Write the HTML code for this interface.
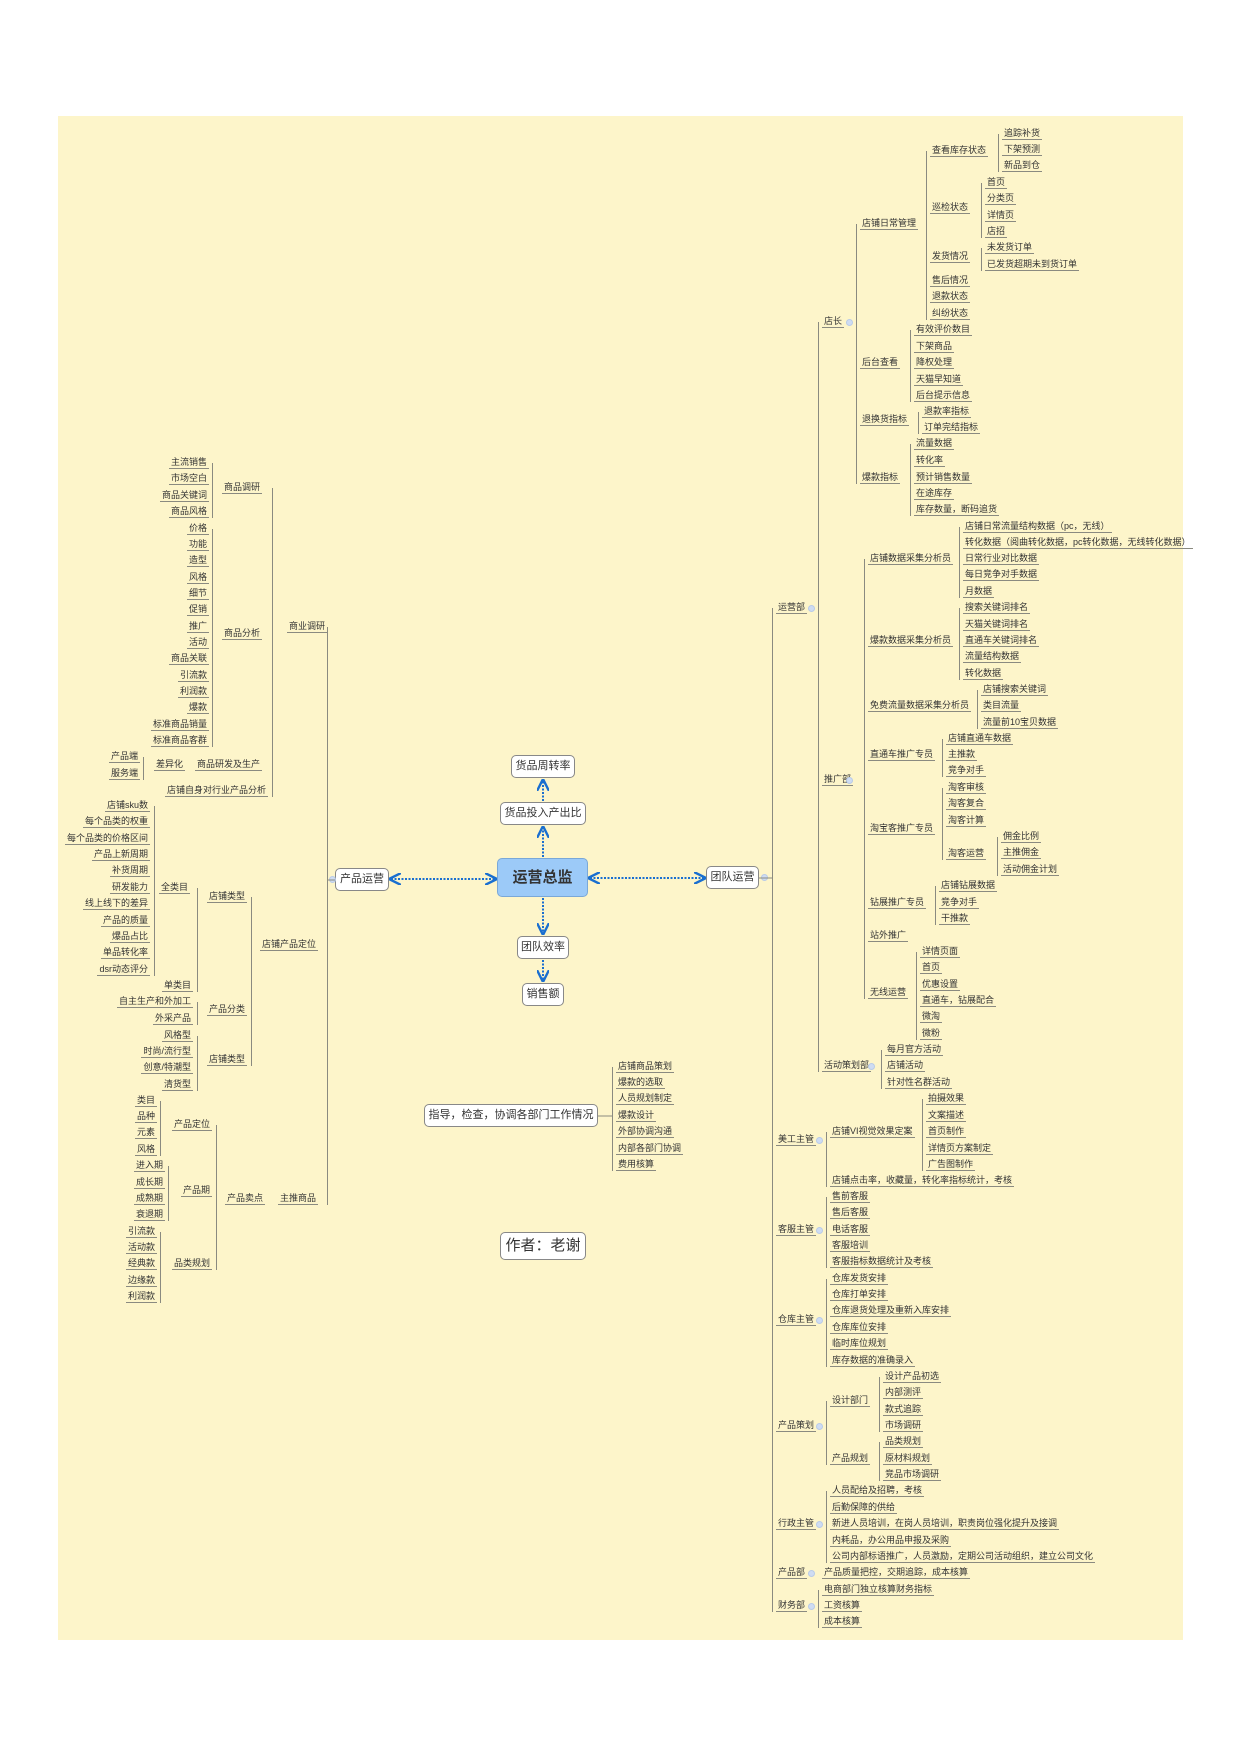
<!DOCTYPE html>
<html><head><meta charset="utf-8"><style>
*{margin:0;padding:0;box-sizing:border-box}
body{width:1240px;height:1754px;background:#fff;position:relative;font-family:"Liberation Sans","Noto Sans CJK SC",sans-serif;color:#333;overflow:hidden}
#bg{position:absolute;left:58px;top:116px;width:1125px;height:1524px;background:#fdf5ca}
.n{position:absolute;font-size:9px;line-height:12px;height:13px;border-bottom:1px solid #8a8a80;padding:0 2px;white-space:nowrap}
.l{text-align:right}
.v{position:absolute;width:0;border-left:1px solid #8a8a80}
.b{position:absolute;background:#fff;border:1px solid #888;border-radius:5px;font-size:11px;text-align:center;white-space:nowrap}
.c{position:absolute;width:7px;height:7px;border-radius:50%;background:#cfdcf2;border:1px solid #b9cbe8}
</style></head><body>
<div id="bg"></div>

<div class="b" style="left:511px;top:755px;width:64px;height:23px;line-height:21px">货品周转率</div>
<div class="b" style="left:500px;top:802px;width:86px;height:23px;line-height:21px">货品投入产出比</div>
<div class="b" style="left:497px;top:858px;width:91px;height:39px;line-height:37px;background:#9ccaf8;border-color:#7aa8d8;font-size:15px;font-weight:bold;color:#333">运营总监</div>
<div class="b" style="left:335px;top:868px;width:54px;height:23px;line-height:21px">产品运营</div>
<div class="b" style="left:706px;top:866px;width:53px;height:23px;line-height:21px">团队运营</div>
<div class="b" style="left:517px;top:936px;width:52px;height:23px;line-height:21px">团队效率</div>
<div class="b" style="left:522px;top:983px;width:42px;height:23px;line-height:21px">销售额</div>
<div class="b" style="left:424px;top:1104px;width:174px;height:23px;line-height:21px">指导，检查，协调各部门工作情况</div>
<div class="b" style="left:500px;top:1232px;width:86px;height:28px;line-height:26px;font-size:15px">作者：老谢</div>
<div class="c" style="left:329px;top:876px"></div>
<div class="c" style="left:761px;top:874px"></div>

<svg style="position:absolute;left:0;top:0" width="1240" height="1754">
<defs><marker id="a" markerWidth="6" markerHeight="6" refX="5" refY="3" orient="auto-start-reverse"><path d="M0,0 L6,3 L0,6" fill="none" stroke="#1a6fd0" stroke-width="1.2"/></marker></defs>
<g stroke="#1a6fd0" stroke-width="2" stroke-dasharray="2,1.5" fill="none">
<line x1="391" y1="879" x2="495" y2="879" marker-start="url(#a)" marker-end="url(#a)"/>
<line x1="590" y1="878" x2="704" y2="878" marker-start="url(#a)" marker-end="url(#a)"/>
<line x1="543" y1="857" x2="543" y2="828" marker-end="url(#a)"/>
<line x1="543" y1="801" x2="543" y2="781" marker-end="url(#a)"/>
<line x1="543" y1="898" x2="543" y2="933" marker-end="url(#a)"/>
<line x1="543" y1="960" x2="543" y2="980" marker-end="url(#a)"/>
</g>
<g stroke="#8a8a80" stroke-width="1">
<line x1="759" y1="878" x2="772" y2="878"/>
<line x1="327" y1="880" x2="335" y2="880"/>
<line x1="598" y1="1116" x2="612" y2="1116"/>
</g>
</svg>

<!-- ===== RIGHT TREE ===== -->
<div class="v" style="left:772px;top:608px;height:1004px"></div>
<div class="n" style="left:776px;top:601px">运营部</div>
<div class="v" style="left:818px;top:322px;height:750px"></div>
<div class="n" style="left:822px;top:315px">店长</div>
<div class="v" style="left:856px;top:224px;height:260px"></div>
<div class="n" style="left:860px;top:217px">店铺日常管理</div>
<div class="v" style="left:926px;top:151px;height:169px"></div>
<div class="n" style="left:930px;top:144px">查看库存状态</div>
<div class="v" style="left:998px;top:134px;height:38px"></div>
<div class="n" style="left:1002px;top:127px">追踪补货</div>
<div class="n" style="left:1002px;top:143px">下架预测</div>
<div class="n" style="left:1002px;top:159px">新品到仓</div>
<div class="n" style="left:930px;top:201px">巡检状态</div>
<div class="v" style="left:981px;top:183px;height:55px"></div>
<div class="n" style="left:985px;top:176px">首页</div>
<div class="n" style="left:985px;top:192px">分类页</div>
<div class="n" style="left:985px;top:209px">详情页</div>
<div class="n" style="left:985px;top:225px">店招</div>
<div class="n" style="left:930px;top:250px">发货情况</div>
<div class="v" style="left:981px;top:248px;height:23px"></div>
<div class="n" style="left:985px;top:241px">未发货订单</div>
<div class="n" style="left:985px;top:258px">已发货超期未到货订单</div>
<div class="n" style="left:930px;top:274px">售后情况</div>
<div class="n" style="left:930px;top:290px">退款状态</div>
<div class="n" style="left:930px;top:307px">纠纷状态</div>
<div class="n" style="left:860px;top:356px">后台查看</div>
<div class="v" style="left:910px;top:330px;height:72px"></div>
<div class="n" style="left:914px;top:323px">有效评价数目</div>
<div class="n" style="left:914px;top:340px">下架商品</div>
<div class="n" style="left:914px;top:356px">降权处理</div>
<div class="n" style="left:914px;top:373px">天猫早知道</div>
<div class="n" style="left:914px;top:389px">后台提示信息</div>
<div class="n" style="left:860px;top:413px">退换货指标</div>
<div class="v" style="left:918px;top:412px;height:22px"></div>
<div class="n" style="left:922px;top:405px">退款率指标</div>
<div class="n" style="left:922px;top:421px">订单完结指标</div>
<div class="n" style="left:860px;top:471px">爆款指标</div>
<div class="v" style="left:910px;top:444px;height:72px"></div>
<div class="n" style="left:914px;top:437px">流量数据</div>
<div class="n" style="left:914px;top:454px">转化率</div>
<div class="n" style="left:914px;top:471px">预计销售数量</div>
<div class="n" style="left:914px;top:487px">在途库存</div>
<div class="n" style="left:914px;top:503px">库存数量，断码追货</div>

<div class="n" style="left:822px;top:773px">推广部</div>
<div class="v" style="left:864px;top:559px;height:440px"></div>
<div class="n" style="left:868px;top:552px">店铺数据采集分析员</div>
<div class="v" style="left:959px;top:527px;height:71px"></div>
<div class="n" style="left:963px;top:520px">店铺日常流量结构数据（pc，无线）</div>
<div class="n" style="left:963px;top:536px">转化数据（阅曲转化数据，pc转化数据，无线转化数据）</div>
<div class="n" style="left:963px;top:552px">日常行业对比数据</div>
<div class="n" style="left:963px;top:568px">每日竞争对手数据</div>
<div class="n" style="left:963px;top:585px">月数据</div>
<div class="n" style="left:868px;top:634px">爆款数据采集分析员</div>
<div class="v" style="left:959px;top:608px;height:72px"></div>
<div class="n" style="left:963px;top:601px">搜索关键词排名</div>
<div class="n" style="left:963px;top:618px">天猫关键词排名</div>
<div class="n" style="left:963px;top:634px">直通车关键词排名</div>
<div class="n" style="left:963px;top:650px">流量结构数据</div>
<div class="n" style="left:963px;top:667px">转化数据</div>
<div class="n" style="left:868px;top:699px">免费流量数据采集分析员</div>
<div class="v" style="left:977px;top:690px;height:39px"></div>
<div class="n" style="left:981px;top:683px">店铺搜索关键词</div>
<div class="n" style="left:981px;top:699px">类目流量</div>
<div class="n" style="left:981px;top:716px">流量前10宝贝数据</div>
<div class="n" style="left:868px;top:748px">直通车推广专员</div>
<div class="v" style="left:942px;top:739px;height:38px"></div>
<div class="n" style="left:946px;top:732px">店铺直通车数据</div>
<div class="n" style="left:946px;top:748px">主推款</div>
<div class="n" style="left:946px;top:764px">竞争对手</div>
<div class="n" style="left:868px;top:822px">淘宝客推广专员</div>
<div class="v" style="left:942px;top:788px;height:72px"></div>
<div class="n" style="left:946px;top:781px">淘客审核</div>
<div class="n" style="left:946px;top:797px">淘客复合</div>
<div class="n" style="left:946px;top:814px">淘客计算</div>
<div class="n" style="left:946px;top:847px">淘客运营</div>
<div class="v" style="left:997px;top:837px;height:39px"></div>
<div class="n" style="left:1001px;top:830px">佣金比例</div>
<div class="n" style="left:1001px;top:846px">主推佣金</div>
<div class="n" style="left:1001px;top:863px">活动佣金计划</div>
<div class="n" style="left:868px;top:896px">钻展推广专员</div>
<div class="v" style="left:935px;top:886px;height:39px"></div>
<div class="n" style="left:939px;top:879px">店铺钻展数据</div>
<div class="n" style="left:939px;top:896px">竞争对手</div>
<div class="n" style="left:939px;top:912px">干推款</div>
<div class="n" style="left:868px;top:929px">站外推广</div>
<div class="n" style="left:868px;top:986px">无线运营</div>
<div class="v" style="left:916px;top:952px;height:88px"></div>
<div class="n" style="left:920px;top:945px">详情页面</div>
<div class="n" style="left:920px;top:961px">首页</div>
<div class="n" style="left:920px;top:978px">优惠设置</div>
<div class="n" style="left:920px;top:994px">直通车，钻展配合</div>
<div class="n" style="left:920px;top:1010px">微淘</div>
<div class="n" style="left:920px;top:1027px">微粉</div>
<div class="n" style="left:822px;top:1059px">活动策划部</div>
<div class="v" style="left:881px;top:1050px;height:39px"></div>
<div class="n" style="left:885px;top:1043px">每月官方活动</div>
<div class="n" style="left:885px;top:1059px">店铺活动</div>
<div class="n" style="left:885px;top:1076px">针对性名群活动</div>

<div class="n" style="left:776px;top:1133px">美工主管</div>
<div class="v" style="left:826px;top:1132px;height:55px"></div>
<div class="n" style="left:830px;top:1125px">店铺VI视觉效果定案</div>
<div class="v" style="left:922px;top:1099px;height:72px"></div>
<div class="n" style="left:926px;top:1092px">拍摄效果</div>
<div class="n" style="left:926px;top:1109px">文案描述</div>
<div class="n" style="left:926px;top:1125px">首页制作</div>
<div class="n" style="left:926px;top:1142px">详情页方案制定</div>
<div class="n" style="left:926px;top:1158px">广告图制作</div>
<div class="n" style="left:830px;top:1174px">店铺点击率，收藏量，转化率指标统计，考核</div>

<div class="n" style="left:776px;top:1223px">客服主管</div>
<div class="v" style="left:826px;top:1197px;height:71px"></div>
<div class="n" style="left:830px;top:1190px">售前客服</div>
<div class="n" style="left:830px;top:1206px">售后客服</div>
<div class="n" style="left:830px;top:1223px">电话客服</div>
<div class="n" style="left:830px;top:1239px">客服培训</div>
<div class="n" style="left:830px;top:1255px">客服指标数据统计及考核</div>

<div class="n" style="left:776px;top:1313px">仓库主管</div>
<div class="v" style="left:826px;top:1279px;height:88px"></div>
<div class="n" style="left:830px;top:1272px">仓库发货安排</div>
<div class="n" style="left:830px;top:1288px">仓库打单安排</div>
<div class="n" style="left:830px;top:1304px">仓库退货处理及重新入库安排</div>
<div class="n" style="left:830px;top:1321px">仓库库位安排</div>
<div class="n" style="left:830px;top:1337px">临时库位规划</div>
<div class="n" style="left:830px;top:1354px">库存数据的准确录入</div>

<div class="n" style="left:776px;top:1419px">产品策划</div>
<div class="v" style="left:826px;top:1401px;height:64px"></div>
<div class="n" style="left:830px;top:1394px">设计部门</div>
<div class="v" style="left:879px;top:1377px;height:55px"></div>
<div class="n" style="left:883px;top:1370px">设计产品初选</div>
<div class="n" style="left:883px;top:1386px">内部测评</div>
<div class="n" style="left:883px;top:1403px">款式追踪</div>
<div class="n" style="left:883px;top:1419px">市场调研</div>
<div class="n" style="left:830px;top:1452px">产品规划</div>
<div class="v" style="left:879px;top:1442px;height:39px"></div>
<div class="n" style="left:883px;top:1435px">品类规划</div>
<div class="n" style="left:883px;top:1452px">原材料规划</div>
<div class="n" style="left:883px;top:1468px">竞品市场调研</div>

<div class="n" style="left:776px;top:1517px">行政主管</div>
<div class="v" style="left:826px;top:1491px;height:72px"></div>
<div class="n" style="left:830px;top:1484px">人员配给及招聘，考核</div>
<div class="n" style="left:830px;top:1501px">后勤保障的供给</div>
<div class="n" style="left:830px;top:1517px">新进人员培训，在岗人员培训，职责岗位强化提升及接调</div>
<div class="n" style="left:830px;top:1534px">内耗品，办公用品申报及采购</div>
<div class="n" style="left:830px;top:1550px">公司内部标语推广，人员激励，定期公司活动组织，建立公司文化</div>
<div class="n" style="left:776px;top:1566px">产品部</div>
<div class="n" style="left:822px;top:1566px">产品质量把控，交期追踪，成本核算</div>
<div class="n" style="left:776px;top:1599px">财务部</div>
<div class="v" style="left:818px;top:1590px;height:38px"></div>
<div class="n" style="left:822px;top:1583px">电商部门独立核算财务指标</div>
<div class="n" style="left:822px;top:1599px">工资核算</div>
<div class="n" style="left:822px;top:1615px">成本核算</div>

<div class="c" style="left:808px;top:605px"></div>
<div class="c" style="left:846px;top:319px"></div>
<div class="c" style="left:846px;top:777px"></div>
<div class="c" style="left:868px;top:1063px"></div>
<div class="c" style="left:816px;top:1137px"></div>
<div class="c" style="left:816px;top:1227px"></div>
<div class="c" style="left:816px;top:1317px"></div>
<div class="c" style="left:816px;top:1423px"></div>
<div class="c" style="left:816px;top:1521px"></div>
<div class="c" style="left:808px;top:1570px"></div>
<div class="c" style="left:808px;top:1603px"></div>

<div class="v" style="left:612px;top:1067px;height:104px"></div>
<div class="n" style="left:616px;top:1060px">店铺商品策划</div>
<div class="n" style="left:616px;top:1076px">爆款的选取</div>
<div class="n" style="left:616px;top:1092px">人员规划制定</div>
<div class="n" style="left:616px;top:1109px">爆款设计</div>
<div class="n" style="left:616px;top:1125px">外部协调沟通</div>
<div class="n" style="left:616px;top:1142px">内部各部门协调</div>
<div class="n" style="left:616px;top:1158px">费用核算</div>

<!-- ===== LEFT TREE ===== -->
<div class="v" style="left:327px;top:627px;height:578px"></div>
<div class="n l" style="right:913px;top:620px">商业调研</div>
<div class="v" style="left:272px;top:488px;height:309px"></div>
<div class="n l" style="right:978px;top:481px">商品调研</div>
<div class="v" style="left:212px;top:463px;height:55px"></div>
<div class="n l" style="right:1031px;top:456px">主流销售</div>
<div class="n l" style="right:1031px;top:472px">市场空白</div>
<div class="n l" style="right:1031px;top:489px">商品关键词</div>
<div class="n l" style="right:1031px;top:505px">商品风格</div>
<div class="n l" style="right:978px;top:627px">商品分析</div>
<div class="v" style="left:212px;top:529px;height:218px"></div>
<div class="n l" style="right:1031px;top:522px">价格</div>
<div class="n l" style="right:1031px;top:538px">功能</div>
<div class="n l" style="right:1031px;top:554px">造型</div>
<div class="n l" style="right:1031px;top:571px">风格</div>
<div class="n l" style="right:1031px;top:587px">细节</div>
<div class="n l" style="right:1031px;top:603px">促销</div>
<div class="n l" style="right:1031px;top:620px">推广</div>
<div class="n l" style="right:1031px;top:636px">活动</div>
<div class="n l" style="right:1031px;top:652px">商品关联</div>
<div class="n l" style="right:1031px;top:669px">引流款</div>
<div class="n l" style="right:1031px;top:685px">利润款</div>
<div class="n l" style="right:1031px;top:701px">爆款</div>
<div class="n l" style="right:1031px;top:718px">标准商品销量</div>
<div class="n l" style="right:1031px;top:734px">标准商品客群</div>
<div class="n l" style="right:978px;top:758px">商品研发及生产</div>
<div class="n l" style="right:1055px;top:758px">差异化</div>
<div class="v" style="left:143px;top:757px;height:23px"></div>
<div class="n l" style="right:1100px;top:750px">产品端</div>
<div class="n l" style="right:1100px;top:767px">服务端</div>
<div class="n l" style="right:972px;top:784px">店铺自身对行业产品分析</div>

<div class="n l" style="right:922px;top:938px">店铺产品定位</div>
<div class="v" style="left:251px;top:897px;height:169px"></div>
<div class="n l" style="right:993px;top:890px">店铺类型</div>
<div class="v" style="left:197px;top:888px;height:104px"></div>
<div class="n l" style="right:1050px;top:881px">全类目</div>
<div class="v" style="left:154px;top:806px;height:170px"></div>
<div class="n l" style="right:1090px;top:799px">店铺sku数</div>
<div class="n l" style="right:1090px;top:815px">每个品类的权重</div>
<div class="n l" style="right:1090px;top:832px">每个品类的价格区间</div>
<div class="n l" style="right:1090px;top:848px">产品上新周期</div>
<div class="n l" style="right:1090px;top:864px">补货周期</div>
<div class="n l" style="right:1090px;top:881px">研发能力</div>
<div class="n l" style="right:1090px;top:897px">线上线下的差异</div>
<div class="n l" style="right:1090px;top:914px">产品的质量</div>
<div class="n l" style="right:1090px;top:930px">爆品占比</div>
<div class="n l" style="right:1090px;top:946px">单品转化率</div>
<div class="n l" style="right:1090px;top:963px">dsr动态评分</div>
<div class="n l" style="right:1047px;top:979px">单类目</div>
<div class="n l" style="right:993px;top:1003px">产品分类</div>
<div class="v" style="left:197px;top:1002px;height:23px"></div>
<div class="n l" style="right:1047px;top:995px">自主生产和外加工</div>
<div class="n l" style="right:1047px;top:1012px">外采产品</div>
<div class="n l" style="right:993px;top:1053px">店铺类型</div>
<div class="v" style="left:197px;top:1036px;height:55px"></div>
<div class="n l" style="right:1047px;top:1029px">风格型</div>
<div class="n l" style="right:1047px;top:1045px">时尚/流行型</div>
<div class="n l" style="right:1047px;top:1061px">创意/特潮型</div>
<div class="n l" style="right:1047px;top:1078px">清货型</div>

<div class="n l" style="right:922px;top:1192px">主推商品</div>
<div class="n l" style="right:975px;top:1192px">产品卖点</div>
<div class="v" style="left:216px;top:1125px;height:145px"></div>
<div class="n l" style="right:1028px;top:1118px">产品定位</div>
<div class="v" style="left:160px;top:1101px;height:55px"></div>
<div class="n l" style="right:1083px;top:1094px">类目</div>
<div class="n l" style="right:1083px;top:1110px">品种</div>
<div class="n l" style="right:1083px;top:1126px">元素</div>
<div class="n l" style="right:1083px;top:1143px">风格</div>
<div class="n l" style="right:1028px;top:1184px">产品期</div>
<div class="v" style="left:168px;top:1166px;height:55px"></div>
<div class="n l" style="right:1075px;top:1159px">进入期</div>
<div class="n l" style="right:1075px;top:1176px">成长期</div>
<div class="n l" style="right:1075px;top:1192px">成熟期</div>
<div class="n l" style="right:1075px;top:1208px">衰退期</div>
<div class="n l" style="right:1028px;top:1257px">品类规划</div>
<div class="v" style="left:160px;top:1232px;height:71px"></div>
<div class="n l" style="right:1083px;top:1225px">引流款</div>
<div class="n l" style="right:1083px;top:1241px">活动款</div>
<div class="n l" style="right:1083px;top:1257px">经典款</div>
<div class="n l" style="right:1083px;top:1274px">边缘款</div>
<div class="n l" style="right:1083px;top:1290px">利润款</div>
</body></html>
